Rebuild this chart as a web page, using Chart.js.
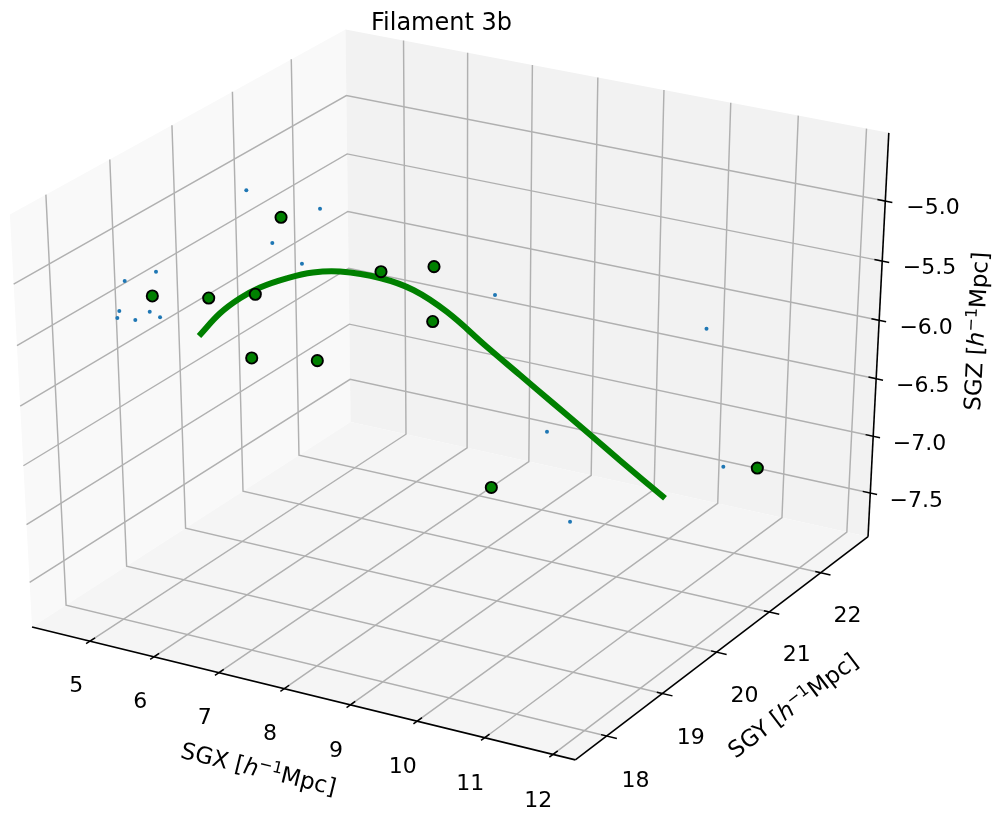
<!DOCTYPE html>
<html>
<head>
<meta charset="utf-8">
<title>Filament 3b</title>
<script src="https://cdn.jsdelivr.net/npm/chart.js@4.4.1/dist/chart.umd.min.js"></script>
<style>
  html, body { margin: 0; padding: 0; background: #ffffff; }
  #wrap { width: 1000px; height: 816px; position: relative; }
</style>
</head>
<body>
<div id="wrap"><canvas id="chart" width="1000" height="816"></canvas></div>
<script>
// ---- axis limits of the 3D box (data units) ----
const xLim = [4.086, 12.3246];
const yLim = [17.449, 22.946];
const zLim = [-7.890, -4.4415];

// ---- tick values ----
const xTicks = [5, 6, 7, 8, 9, 10, 11, 12];
const yTicks = [18, 19, 20, 21, 22];
const zTicks = [-7.5, -7.0, -6.5, -6.0, -5.5, -5.0];

// ---- filament spine (fitted curve) ----
const spineX = [5.074, 5.214, 5.375, 5.556, 5.819, 6.093, 6.396, 6.879, 7.311, 7.785, 8.394, 8.896, 9.399, 9.903, 10.408, 11.085];
const spineY = [19.302, 19.509, 19.673, 19.815, 19.978, 20.123, 20.246, 20.389, 20.474, 20.511, 20.509, 20.512, 20.515, 20.518, 20.518, 20.525];
const spineZ = [-5.873, -5.729, -5.634, -5.565, -5.507, -5.470, -5.464, -5.505, -5.581, -5.719, -5.941, -6.120, -6.300, -6.480, -6.662, -6.902];

// ---- groups along the filament (green markers) ----
const groupX = [5.488, 4.368, 5.018, 5.532, 6.863, 7.444, 7.669, 5.770, 6.528, 9.062, 12.003];
const groupY = [20.262, 19.300, 19.537, 19.760, 20.425, 20.683, 20.400, 19.422, 19.696, 19.818, 21.082];
const groupZ = [-5.120, -5.619, -5.632, -5.608, -5.465, -5.433, -5.781, -6.012, -6.029, -6.833, -6.710];

// ---- member galaxies (small blue dots) ----
const galX = [4.975, 5.894, 5.501, 5.929, 4.985, 5.293, 5.053, 5.061, 5.269, 5.394, 5.532, 8.262, 10.816, 9.451, 11.610, 10.107];
const galY = [20.246, 20.476, 20.094, 20.119, 18.248, 18.427, 18.077, 18.034, 18.101, 18.203, 18.220, 20.807, 21.563, 20.344, 20.940, 19.990];
const galZ = [-4.949, -5.066, -5.283, -5.414, -5.109, -5.052, -5.294, -5.338, -5.350, -5.299, -5.333, -5.613, -5.827, -6.480, -6.702, -7.050];

// ---- camera: elevation / azimuth / distance, perspective projection ----
const camera = { elev: 30, azim: -60, dist: 10 };
// projected-plane window covered by the canvas
const viewX = [-0.0727896, 0.0866618];
const viewY = [-0.0921019, 0.0811465];

const project = (() => {
  const el = camera.elev * Math.PI / 180, az = camera.azim * Math.PI / 180;
  const R = [0.5, 0.5, 0.5];
  const E = [R[0] + Math.cos(az) * Math.cos(el) * camera.dist,
             R[1] + Math.sin(az) * Math.cos(el) * camera.dist,
             R[2] + Math.sin(el) * camera.dist];
  const sub = (a, b) => [a[0] - b[0], a[1] - b[1], a[2] - b[2]];
  const dot = (a, b) => a[0] * b[0] + a[1] * b[1] + a[2] * b[2];
  const cross = (a, b) => [a[1] * b[2] - a[2] * b[1], a[2] * b[0] - a[0] * b[2], a[0] * b[1] - a[1] * b[0]];
  const unit = a => { const l = Math.hypot(a[0], a[1], a[2]); return a.map(c => c / l); };
  const w = unit(sub(E, R));
  const u = unit(cross([0, 0, 1], w));
  const v = cross(w, u);
  return (X, Y, Z) => {
    const d = [X - E[0], Y - E[1], Z - E[2]];
    const depth = -dot(w, d);
    return { x: dot(u, d) / depth, y: dot(v, d) / depth };
  };
})();

const nx = x => (x - xLim[0]) / (xLim[1] - xLim[0]);
const ny = y => (y - yLim[0]) / (yLim[1] - yLim[0]);
const nz = z => (z - zLim[0]) / (zLim[1] - zLim[0]);
const toPlane = (xs, ys, zs) => xs.map((x, i) => project(nx(x), ny(ys[i]), nz(zs[i])));

const FONT = '"DejaVu Sans", "Liberation Sans", sans-serif';
const MINUS = '\u2212';

// Draws the box panes, grid, axes, ticks and texts behind the data
const box3d = {
  id: 'box3d',
  beforeDatasetsDraw(chart) {
    const ctx = chart.ctx;
    const sx = chart.scales.x, sy = chart.scales.y;
    const P = (X, Y, Z) => { const p = project(X, Y, Z); return [sx.getPixelForValue(p.x), sy.getPixelForValue(p.y)]; };
    const path = pts => { ctx.beginPath(); pts.forEach((p, i) => i ? ctx.lineTo(p[0], p[1]) : ctx.moveTo(p[0], p[1])); };

    ctx.save();
    // panes
    const panes = [
      { pts: [[0, 0, 0], [0, 1, 0], [0, 1, 1], [0, 0, 1]], color: '#f9f9f9' },
      { pts: [[0, 1, 0], [1, 1, 0], [1, 1, 1], [0, 1, 1]], color: '#f2f2f2' },
      { pts: [[0, 0, 0], [1, 0, 0], [1, 1, 0], [0, 1, 0]], color: '#f5f5f5' }
    ];
    panes.forEach(pn => {
      path(pn.pts.map(c => P(c[0], c[1], c[2])));
      ctx.closePath();
      ctx.fillStyle = pn.color;
      ctx.fill();
    });

    // grid lines
    ctx.strokeStyle = '#b0b0b0';
    ctx.lineWidth = 1.45;
    ctx.lineJoin = 'miter';
    xTicks.forEach(t => { const X = nx(t); path([P(X, 0, 0), P(X, 1, 0), P(X, 1, 1)]); ctx.stroke(); });
    yTicks.forEach(t => { const Y = ny(t); path([P(1, Y, 0), P(0, Y, 0), P(0, Y, 1)]); ctx.stroke(); });
    zTicks.forEach(t => { const Z = nz(t); path([P(0, 0, Z), P(0, 1, Z), P(1, 1, Z)]); ctx.stroke(); });

    // axis lines
    ctx.strokeStyle = '#000000';
    ctx.lineWidth = 1.6;
    path([P(0, 0, 0), P(1, 0, 0)]); ctx.stroke();
    path([P(1, 0, 0), P(1, 1, 0)]); ctx.stroke();
    path([P(1, 1, 0), P(1, 1, 1)]); ctx.stroke();

    // tick marks
    ctx.lineWidth = 1.5;
    xTicks.forEach(t => { const X = nx(t); path([P(X, -0.0115, 0), P(X, 0.015, 0)]); ctx.stroke(); });
    yTicks.forEach(t => { const Y = ny(t); path([P(1.018, Y, 0), P(0.99, Y, 0)]); ctx.stroke(); });
    zTicks.forEach(t => { const Z = nz(t); path([P(1.0125, 1, Z), P(0.986, 1, Z)]); ctx.stroke(); });

    // tick labels (centred on their anchor)
    const tickSize = 22;
    ctx.fillStyle = '#000000';
    ctx.font = `${tickSize}px ${FONT}`;
    ctx.textAlign = 'center';
    ctx.textBaseline = 'alphabetic';
    const put = (txt, p) => ctx.fillText(txt, p[0], p[1] + 0.365 * tickSize);
    xTicks.forEach(t => put(String(t), P(nx(t), -0.045, -0.084)));
    yTicks.forEach(t => put(String(t), P(1.0525, ny(t), -0.089)));
    zTicks.forEach(t => put(t.toFixed(1).replace('-', MINUS), P(1.076, 1.017, nz(t))));

    // axis titles with h^-1 Mpc units
    const labelSize = 23;
    const axisLabel = (prefix, anchor, a, b) => {
      let ang = Math.atan2(b[1] - a[1], b[0] - a[0]);
      if (ang > Math.PI / 2) ang -= Math.PI;
      if (ang < -Math.PI / 2) ang += Math.PI;
      const parts = [
        { t: prefix + ' [', f: `${labelSize}px ${FONT}`, dy: 0 },
        { t: 'h', f: `italic ${labelSize}px ${FONT}`, dy: 0 },
        { t: MINUS + '1', f: `${(labelSize * 0.7).toFixed(1)}px ${FONT}`, dy: -0.36 * labelSize },
        { t: 'Mpc]', f: `${labelSize}px ${FONT}`, dy: 0 }
      ];
      let total = 0;
      parts.forEach(pt => { ctx.font = pt.f; pt.w = ctx.measureText(pt.t).width; total += pt.w; });
      ctx.save();
      ctx.translate(anchor[0], anchor[1]);
      ctx.rotate(ang);
      ctx.textAlign = 'left';
      ctx.textBaseline = 'alphabetic';
      let x = -total / 2;
      parts.forEach(pt => { ctx.font = pt.f; ctx.fillText(pt.t, x, 0.365 * labelSize + pt.dy); x += pt.w; });
      ctx.restore();
    };
    axisLabel('SGX', P(0.5, -0.121, -0.121), P(0, 0, 0), P(1, 0, 0));
    axisLabel('SGY', P(1.121, 0.5, -0.115), P(1, 0, 0), P(1, 1, 0));
    axisLabel('SGZ', P(1.1205, 1.1127, 0.5), P(1, 1, 0), P(1, 1, 1));

    // title
    ctx.font = `24px ${FONT}`;
    ctx.textAlign = 'center';
    ctx.textBaseline = 'alphabetic';
    ctx.fillText('Filament 3b', 441.5, 29.5);
    ctx.restore();
  }
};

new Chart(document.getElementById('chart'), {
  type: 'scatter',
  data: {
    datasets: [
      {
        label: 'spine',
        data: toPlane(spineX, spineY, spineZ),
        showLine: true,
        borderColor: '#008000',
        borderWidth: 6,
        borderCapStyle: 'butt',
        borderJoinStyle: 'round',
        tension: 0.4,
        pointRadius: 0,
        fill: false,
        order: 3
      },
      {
        label: 'galaxies',
        data: toPlane(galX, galY, galZ),
        pointRadius: 2,
        pointBackgroundColor: '#1f77b4',
        backgroundColor: '#1f77b4',
        borderWidth: 0,
        pointBorderWidth: 0,
        order: 2
      },
      {
        label: 'groups',
        data: toPlane(groupX, groupY, groupZ),
        pointRadius: 5.6,
        pointBackgroundColor: '#008000',
        backgroundColor: '#008000',
        pointBorderColor: '#000000',
        borderColor: '#000000',
        pointBorderWidth: 1.9,
        order: 1
      }
    ]
  },
  options: {
    responsive: false,
    animation: false,
    events: [],
    devicePixelRatio: 1,
    clip: false,
    layout: { padding: 0, autoPadding: false },
    plugins: { legend: { display: false }, tooltip: { enabled: false }, title: { display: false } },
    scales: {
      x: { type: 'linear', display: false, min: viewX[0], max: viewX[1] },
      y: { type: 'linear', display: false, min: viewY[0], max: viewY[1] }
    }
  },
  plugins: [box3d]
});
</script>
</body>
</html>
